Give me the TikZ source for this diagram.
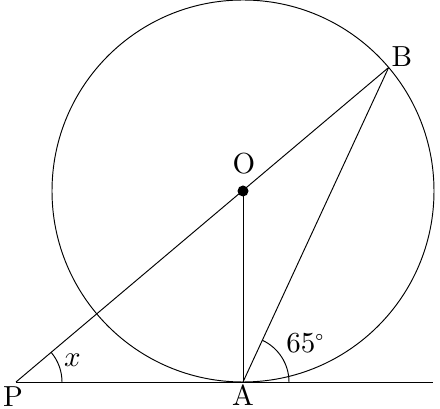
\documentclass[tikz,border=0pt]{standalone}
\usepackage{unicode-math}
\setmainfont{lmroman10-regular.otf}
\setmathfont{Latin Modern Math}
\usetikzlibrary{calc}
\begin{document}
\begin{tikzpicture}[x=1pt,y=-1pt,line width=0.95pt,
  lbl/.style={font=\fontsize{29}{31}\selectfont,inner sep=0pt,anchor=base}]
\useasboundingbox (0,0) rectangle (440,409);
\coordinate (O) at (243,191);
\coordinate (A) at (243,382);
\coordinate (P) at (16,382);
\coordinate (E) at (433,382);
\coordinate (B) at ($(O)+(-40.3:191)$);
\draw (O) circle[radius=191];
\draw (P) -- (E);
\draw (P) -- (B);
\draw (O) -- (A);
\draw (A) -- (B);
\fill (O) circle[radius=5.5];
\draw (P) ++(46,0) arc[start angle=0,end angle=-40.3,radius=46];
\draw (A) ++(46,0) arc[start angle=0,end angle=-65,radius=46];
\node[lbl] (Pl) at (13,407) {P};
\node[lbl] (Al) at (243,406) {A};
\node[lbl] (Bl) at (402,67) {B};
\node[lbl] (Ol) at (244,174) {O};
\node[lbl] (xl) at (73,367) {$x$};
\node[lbl,anchor=base west] (al) at (286,353) {65$^\circ$};
\end{tikzpicture}
\end{document}
